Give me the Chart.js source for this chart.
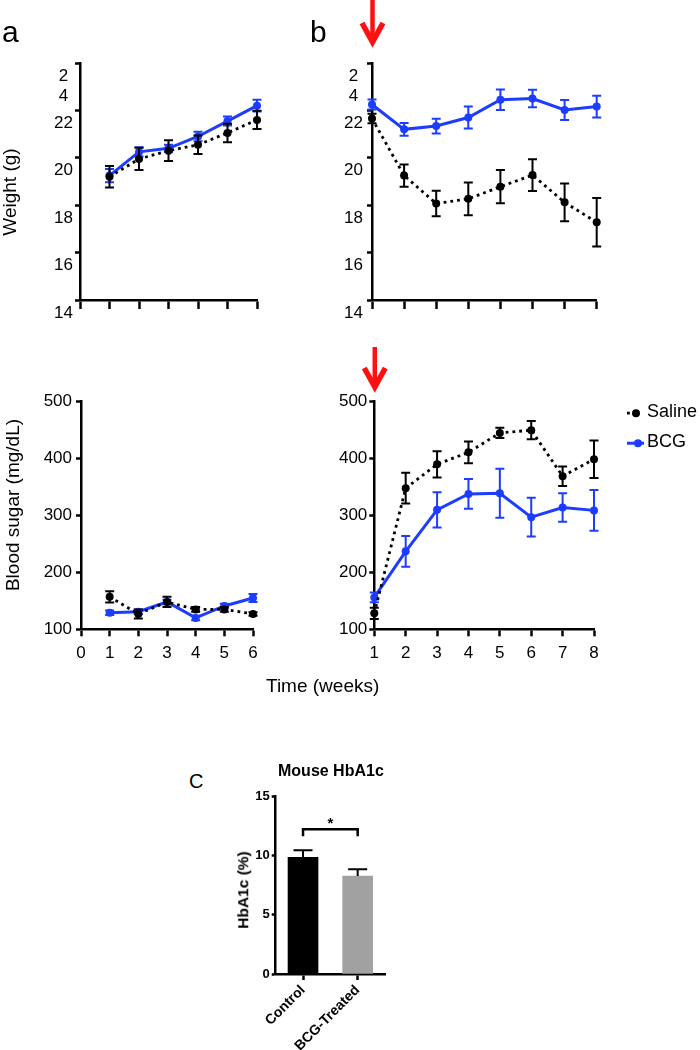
<!DOCTYPE html>
<html><head><meta charset="utf-8">
<script src="https://cdn.jsdelivr.net/npm/chart.js@4.4.1/dist/chart.umd.min.js"></script>
<style>
html,body{margin:0;padding:0;background:#fff;}
body{width:700px;height:1050px;position:relative;overflow:hidden;font-family:"Liberation Sans",Arial,Helvetica,sans-serif;color:#000;}
canvas{position:absolute;}
.t{position:absolute;white-space:nowrap;line-height:1;}
.r{position:absolute;white-space:nowrap;line-height:1;transform:translate(-50%,-50%) rotate(-90deg);}
</style></head><body>
<canvas id="wA" width="270" height="330" style="left:0;top:0"></canvas>
<canvas id="wB" width="330" height="330" style="left:290px;top:0"></canvas>
<canvas id="sA" width="270" height="340" style="left:0;top:340px"></canvas>
<canvas id="sB" width="410" height="340" style="left:290px;top:340px"></canvas>
<canvas id="hb" width="200" height="270" style="left:240px;top:780px"></canvas>

<div class="t" style="left:2px;top:16.6px;font-size:30px">a</div>
<div class="t" style="left:310px;top:16.6px;font-size:30px">b</div>
<div class="t" style="left:189px;top:771px;font-size:20px">C</div>
<div class="r" style="left:9px;top:192px;font-size:19px">Weight (g)</div>
<div class="r" style="left:12px;top:505px;font-size:19px">Blood sugar (mg/dL)</div>
<div class="t" style="left:266px;top:675.5px;font-size:19px">Time (weeks)</div>
<div class="t" style="left:278px;top:763px;font-size:16px;font-weight:bold">Mouse HbA1c</div>
<div class="r" style="left:243px;top:890px;font-size:15.5px;font-weight:bold">HbA1c (%)</div>

<script>
// ---------- data ----------
const weeksA = [1, 2, 3, 4, 5, 6];
const weeksB = [1, 2, 3, 4, 5, 6, 7, 8];
const seriesNames = ['Saline', 'BCG'];

const weightA_saline    = [19.2, 19.95, 20.3, 20.55, 21.05, 21.6];
const weightA_salineErr = [0.45, 0.47, 0.44, 0.39, 0.39, 0.39];
const weightA_bcg       = [19.25, 20.25, 20.4, 20.9, 21.55, 22.2];
const weightA_bcgErr    = [0.28, 0.2, 0.15, 0.2, 0.19, 0.25];

const weightB_saline    = [21.66, 19.25, 18.07, 18.27, 18.78, 19.27, 18.12, 17.28];
const weightB_salineErr = [0.2, 0.47, 0.54, 0.69, 0.7, 0.67, 0.8, 1.02];
const weightB_bcg       = [22.25, 21.2, 21.34, 21.7, 22.45, 22.5, 22.02, 22.16];
const weightB_bcgErr    = [0.21, 0.27, 0.31, 0.46, 0.43, 0.37, 0.42, 0.46];

const sugarA_saline    = [157, 127, 148, 135, 135, 127];
const sugarA_salineErr = [9.7, 8, 9, 4, 4, 3];
const sugarA_bcg       = [129, 131, 148, 120, 141, 155];
const sugarA_bcgErr    = [4, 4, 4, 4, 4, 7];

const sugarB_saline    = [128, 348, 390, 411, 445, 450, 369, 399];
const sugarB_salineErr = [10, 27, 23, 19, 9, 16, 17, 33];
const sugarB_bcg       = [156, 237, 310, 338, 339, 297, 314, 309];
const sugarB_bcgErr    = [8.5, 27, 31, 26, 43, 34, 25, 36];

const weightTicks      = [14, 16, 18, 20, 22, 24];
const weightTickLabels = ['14', '16', '18', '20', '22', ['', '2', '4']];
const sugarTicks       = [100, 200, 300, 400, 500];
const weekTicksA       = [0, 1, 2, 3, 4, 5, 6];
const weekTicksB       = [1, 2, 3, 4, 5, 6, 7, 8];

const hbCategories = ['Control', 'BCG-Treated'];
const hbValues     = [9.83, 8.26];
const hbErr        = [0.6, 0.56];
const hbTicks      = [0, 5, 10, 15];
const hbSigLevel   = 12.2;

// ---------- style ----------
const FONT = '"Liberation Sans", Arial, Helvetica, sans-serif';
Chart.defaults.font.family = FONT;
Chart.defaults.color = '#000';
const BLUE = 'rgb(28,60,255)';
const AXW = 2.5;

// ---------- plugins ----------
const errorBars = {
  id: 'errorBars',
  afterDatasetDraw(chart, args) {
    const ds = chart.data.datasets[args.index];
    if (!ds.errors) return;
    const meta = args.meta;
    const ys = chart.scales[meta.yAxisID];
    const ctx = chart.ctx;
    ctx.save();
    ctx.strokeStyle = ds.errorColor || ds.borderColor;
    ctx.lineWidth = 2;
    ctx.setLineDash([]);
    meta.data.forEach((el, j) => {
      const raw = ds.data[j];
      const v = typeof raw === 'object' ? raw.y : raw;
      const e = ds.errors[j];
      const x = el.x;
      const cw = ds.capHalf || 4.5;
      const yT = ys.getPixelForValue(v + e);
      const yB = ds.upperOnly ? ys.getPixelForValue(v) : ys.getPixelForValue(v - e);
      ctx.beginPath();
      ctx.moveTo(x, yT); ctx.lineTo(x, yB);
      ctx.moveTo(x - cw, yT); ctx.lineTo(x + cw, yT);
      if (!ds.upperOnly) { ctx.moveTo(x - cw, yB); ctx.lineTo(x + cw, yB); }
      ctx.stroke();
    });
    ctx.restore();
  }
};

const arrowPlugin = {
  id: 'redArrow',
  afterDraw(chart, args, o) {
    if (!o || o.value == null) return;
    const x = chart.scales.x.getPixelForValue(o.value) + (o.dx || 0);
    const ctx = chart.ctx;
    ctx.save();
    ctx.strokeStyle = '#ff1010';
    ctx.lineWidth = 4.5;
    ctx.beginPath(); ctx.moveTo(x, o.top); ctx.lineTo(x, o.tip - 4); ctx.stroke();
    ctx.lineJoin = 'miter';
    ctx.lineWidth = 5.5;
    ctx.beginPath();
    ctx.moveTo(x - 10.5, o.tip - 24); ctx.lineTo(x, o.tip - 5); ctx.lineTo(x + 10.5, o.tip - 24);
    ctx.stroke();
    ctx.restore();
  }
};

const sideLegend = {
  id: 'sideLegend',
  afterDraw(chart, args, o) {
    if (!o || !o.show) return;
    const ctx = chart.ctx;
    const x0 = chart.chartArea.right + o.dx;
    chart.data.datasets.forEach((ds, i) => {
      const y = chart.chartArea.top + o.dy + i * o.spacing;
      ctx.save();
      ctx.strokeStyle = ds.borderColor;
      ctx.lineWidth = ds.borderWidth;
      ctx.setLineDash(ds.borderDash || []);
      ctx.beginPath(); ctx.moveTo(x0, y); ctx.lineTo(x0 + o.lineLen[i], y); ctx.stroke();
      ctx.setLineDash([]);
      ctx.fillStyle = ds.pointBackgroundColor;
      ctx.beginPath(); ctx.arc(x0 + o.dotAt[i], y, ds.pointRadius, 0, Math.PI * 2); ctx.fill();
      ctx.fillStyle = '#000';
      ctx.font = '18px ' + FONT;
      ctx.textBaseline = 'middle';
      ctx.fillText(ds.label, x0 + o.textAt, y - 1);
      ctx.restore();
    });
  }
};

const sigBracket = {
  id: 'sigBracket',
  afterDraw(chart, args, o) {
    if (!o || o.level == null) return;
    const xs = chart.scales.x, ys = chart.scales.y;
    const x0 = xs.getPixelForValue(0), x1 = xs.getPixelForValue(1);
    const y = ys.getPixelForValue(o.level), yl = ys.getPixelForValue(o.level - 0.6);
    const ctx = chart.ctx;
    ctx.save();
    ctx.strokeStyle = '#000'; ctx.lineWidth = 2.5; ctx.lineJoin = 'miter';
    ctx.beginPath(); ctx.moveTo(x0, yl); ctx.lineTo(x0, y); ctx.lineTo(x1, y); ctx.lineTo(x1, yl); ctx.stroke();
    ctx.fillStyle = '#000'; ctx.font = 'bold 15px ' + FONT;
    ctx.textAlign = 'center'; ctx.textBaseline = 'alphabetic';
    ctx.fillText('*', (x0 + x1) / 2, y - 1);
    ctx.restore();
  }
};

Chart.register(errorBars, arrowPlugin, sideLegend, sigBracket);

// ---------- helpers ----------
const pts = (xs, ys) => xs.map((x, i) => ({ x: x, y: ys[i] }));

function salineDs(xs, ys, err) {
  return { label: seriesNames[0], data: pts(xs, ys), errors: err,
    borderColor: '#000', backgroundColor: '#000', pointBackgroundColor: '#000', pointBorderColor: '#000',
    borderWidth: 2.8, borderDash: [2.8, 4], pointRadius: 4, pointBorderWidth: 0, clip: false, tension: 0 };
}
function bcgDs(xs, ys, err) {
  return { label: seriesNames[1], data: pts(xs, ys), errors: err,
    borderColor: BLUE, backgroundColor: BLUE, pointBackgroundColor: BLUE, pointBorderColor: BLUE,
    borderWidth: 3, pointRadius: 4, pointBorderWidth: 0, clip: false, tension: 0 };
}

function lineChart(id, o) {
  return new Chart(document.getElementById(id), {
    type: 'line',
    data: { datasets: o.datasets },
    options: {
      responsive: false, animation: false, events: [],
      layout: { autoPadding: false, padding: o.padding },
      plugins: { legend: { display: false }, tooltip: { enabled: false },
        redArrow: o.arrow || {}, sideLegend: o.legend || {} },
      scales: {
        x: { type: 'linear', min: o.xTicks[0], max: o.xTicks[o.xTicks.length - 1],
          afterBuildTicks: s => { s.ticks = o.xTicks.map(v => ({ value: v })); },
          afterFit: s => { s.height = o.xHeight; },
          border: { display: true, color: '#000', width: AXW },
          grid: { drawOnChartArea: false, drawTicks: true, tickLength: o.xTickLen, tickWidth: AXW, tickColor: '#000' },
          ticks: { display: o.xLabels, font: { size: 17 }, padding: 7, maxRotation: 0, autoSkip: false,
            callback: v => String(v) } },
        y: { type: 'linear', min: o.yTicks[0], max: o.yTicks[o.yTicks.length - 1],
          afterBuildTicks: s => { s.ticks = o.yTicks.map(v => ({ value: v })); },
          afterFit: s => { s.width = o.yWidth; },
          border: { display: true, color: '#000', width: AXW },
          grid: { drawOnChartArea: false, drawTicks: true, tickLength: 5, tickWidth: AXW, tickColor: '#000' },
          ticks: { font: { size: 17 }, padding: o.yPad, labelOffset: o.yLabelOffset || 0,
            crossAlign: o.yCross || 'near', autoSkip: false,
            callback: (v, i) => o.yLabels[i] } }
      }
    }
  });
}

// ---------- charts ----------
lineChart('wA', {
  datasets: [salineDs(weeksA, weightA_saline, weightA_salineErr), bcgDs(weeksA, weightA_bcg, weightA_bcgErr)],
  padding: { top: 63, right: 13, left: 0, bottom: 0 },
  xTicks: weekTicksA, xLabels: false, xHeight: 30, xTickLen: 9,
  yTicks: weightTicks, yLabels: weightTickLabels, yWidth: 80, yPad: 2, yLabelOffset: 13, yCross: 'center'
});

lineChart('wB', {
  datasets: [salineDs(weeksB, weightB_saline, weightB_salineErr), bcgDs(weeksB, weightB_bcg, weightB_bcgErr)],
  padding: { top: 63, right: 23.3, left: 0, bottom: 0 },
  xTicks: weekTicksB, xLabels: false, xHeight: 30, xTickLen: 9,
  yTicks: weightTicks, yLabels: weightTickLabels, yWidth: 82, yPad: 4, yLabelOffset: 13, yCross: 'center',
  arrow: { value: 1, top: -2, tip: 47, dx: 0.5 }
});

lineChart('sA', {
  datasets: [salineDs(weeksA, sugarA_saline, sugarA_salineErr), bcgDs(weeksA, sugarA_bcg, sugarA_bcgErr)],
  padding: { top: 61.7, right: 17, left: 0, bottom: 0 },
  xTicks: weekTicksA, xLabels: true, xHeight: 50.7, xTickLen: 7,
  yTicks: sugarTicks, yLabels: sugarTicks.map(String), yWidth: 81, yPad: 4
});

lineChart('sB', {
  datasets: [salineDs(weeksB, sugarB_saline, sugarB_salineErr), bcgDs(weeksB, sugarB_bcg, sugarB_bcgErr)],
  padding: { top: 61.7, right: 106, left: 0, bottom: 0 },
  xTicks: weekTicksB, xLabels: true, xHeight: 50.7, xTickLen: 7,
  yTicks: sugarTicks, yLabels: sugarTicks.map(String), yWidth: 84.3, yPad: 2,
  arrow: { value: 1, top: 7, tip: 52, dx: 0.5 },
  legend: { show: true, dx: 33, dy: 11.5, spacing: 30, lineLen: [12, 17], dotAt: [9, 11], textAt: 20 }
});

new Chart(document.getElementById('hb'), {
  type: 'bar',
  data: { labels: hbCategories, datasets: [{ data: hbValues, errors: hbErr, upperOnly: true, capHalf: 9.5,
    errorColor: '#000', backgroundColor: ['#000000', '#a1a1a1'], borderWidth: 0, barThickness: 30 }] },
  options: {
    responsive: false, animation: false, events: [],
    layout: { autoPadding: false, padding: { top: 16, right: 55, left: 0, bottom: 0 } },
    plugins: { legend: { display: false }, tooltip: { enabled: false }, sigBracket: { level: hbSigLevel } },
    scales: {
      x: { type: 'category', offset: true, afterFit: s => { s.height = 76; },
        border: { display: true, color: '#000', width: AXW },
        grid: { offset: false, drawOnChartArea: false, tickLength: 6, tickWidth: AXW, tickColor: '#000' },
        ticks: { font: { size: 14, weight: 'bold' }, minRotation: 45, maxRotation: 45, padding: 2, autoSkip: false } },
      y: { type: 'linear', min: 0, max: 15,
        afterBuildTicks: s => { s.ticks = hbTicks.map(v => ({ value: v })); },
        afterFit: s => { s.width = 35.7; },
        border: { display: true, color: '#000', width: AXW },
        grid: { drawOnChartArea: false, tickLength: 4, tickWidth: AXW, tickColor: '#000' },
        ticks: { font: { size: 13, weight: 'bold' }, padding: 2 } }
    }
  }
});
</script>
</body></html>
